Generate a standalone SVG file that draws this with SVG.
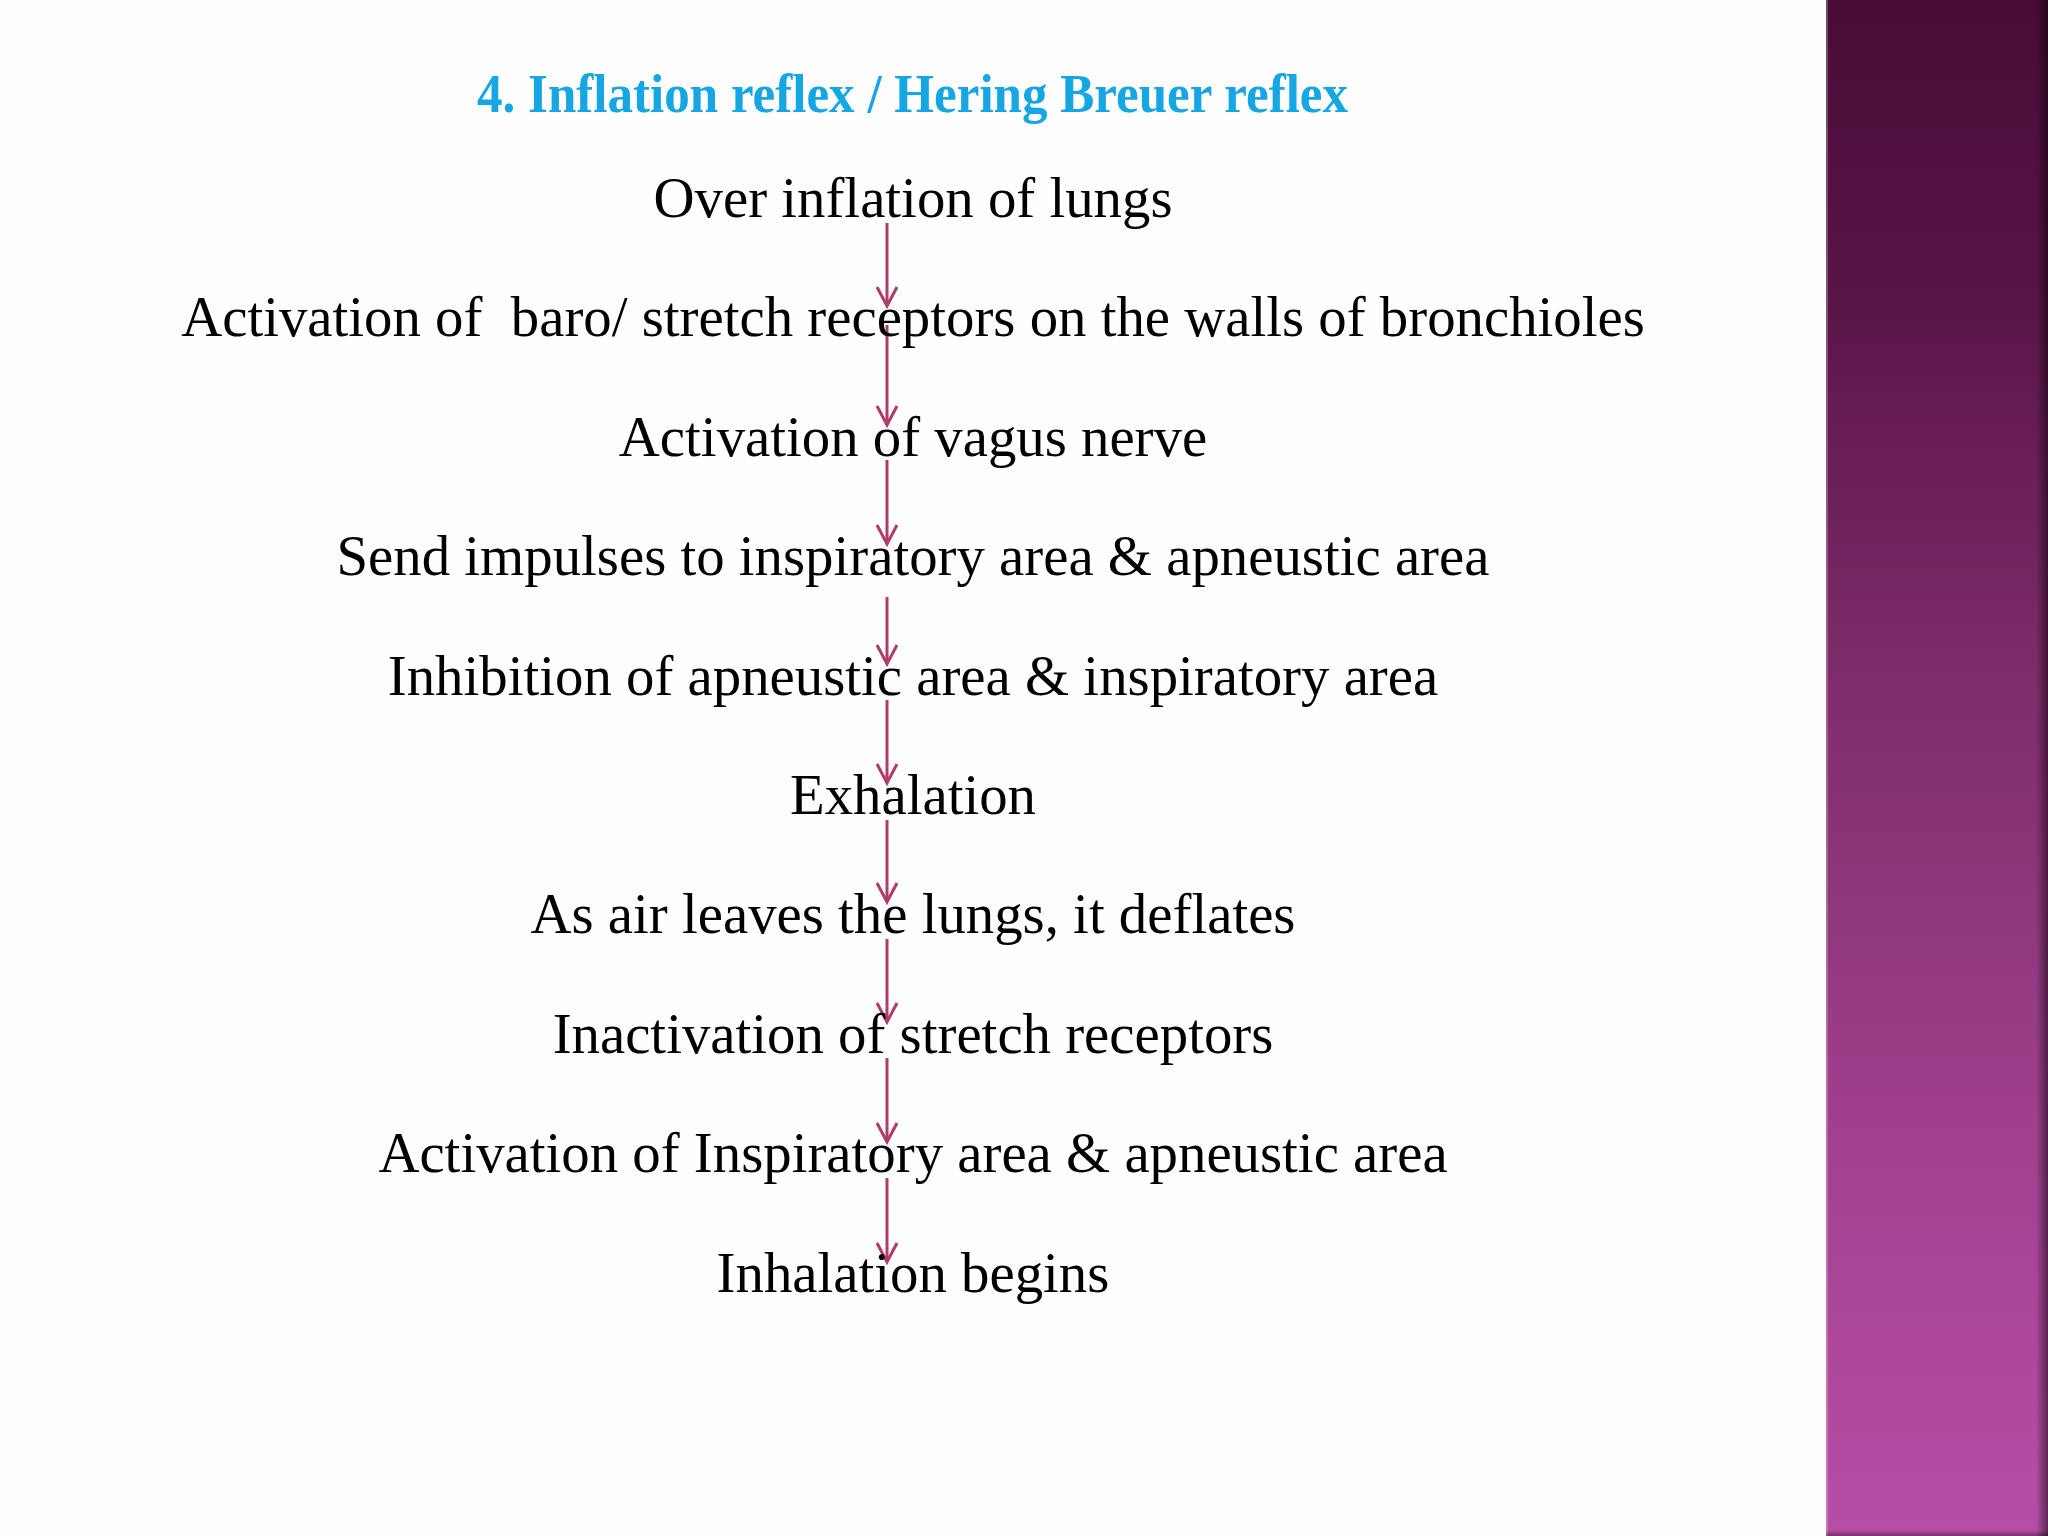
<svg xmlns="http://www.w3.org/2000/svg" width="2048" height="1536" viewBox="0 0 2048 1536">
  <style>
    .step { font-family: "Liberation Serif", "Times New Roman", serif; font-size: 56.8px; fill: #000000; text-anchor: middle; }
    .title { font-family: "Liberation Serif", "Times New Roman", serif; font-size: 54px; font-weight: bold; fill: #16a6e4; }
    .conn { stroke: #b03c6c; stroke-width: 3; fill: none; marker-end: url(#arrow); }
  </style>
  <defs>
    <marker id="arrow" markerUnits="userSpaceOnUse" markerWidth="40" markerHeight="40" refX="0" refY="0" orient="auto" overflow="visible">
      <path d="M-19,-10 L0,0 L-19,10" fill="none" stroke="#b03c6c" stroke-width="3" stroke-linejoin="miter"/>
    </marker>
    <linearGradient id="barGrad" x1="0" y1="0" x2="0" y2="1">
      <stop offset="0" stop-color="#480b37"/>
      <stop offset="0.2" stop-color="#5a1548"/>
      <stop offset="0.45" stop-color="#7f2d6c"/>
      <stop offset="0.75" stop-color="#a2418f"/>
      <stop offset="1" stop-color="#b64ea6"/>
    </linearGradient>
    <linearGradient id="edgeShade" x1="0" y1="0" x2="1" y2="0">
      <stop offset="0" stop-color="#000000" stop-opacity="0"/>
      <stop offset="1" stop-color="#000000" stop-opacity="0.5"/>
    </linearGradient>
    <linearGradient id="bottomShade" x1="0" y1="0" x2="0" y2="1">
      <stop offset="0" stop-color="#000000" stop-opacity="0"/>
      <stop offset="1" stop-color="#000000" stop-opacity="0.35"/>
    </linearGradient>
  </defs>

  <rect x="0" y="0" width="2048" height="1536" fill="#fefefe"/>

  <g id="side-bar">
    <rect x="1826" y="0" width="222" height="1536" fill="url(#barGrad)"/>
    <rect x="1826" y="0" width="2" height="1536" fill="#ffffff" fill-opacity="0.25"/>
    <rect x="2036" y="0" width="12" height="1536" fill="url(#edgeShade)"/>
    <rect x="1826" y="1530" width="222" height="6" fill="url(#bottomShade)"/>
  </g>

  <g id="title">
    <text class="title" x="477" y="112" textLength="871" lengthAdjust="spacingAndGlyphs">4. Inflation reflex / Hering Breuer reflex</text>
  </g>

  <g id="connectors">
    <line class="conn" x1="887" y1="223" x2="887" y2="306"/>
    <line class="conn" x1="887" y1="325" x2="887" y2="425"/>
    <line class="conn" x1="887" y1="460" x2="887" y2="544"/>
    <line class="conn" x1="887" y1="597" x2="887" y2="664"/>
    <line class="conn" x1="887" y1="700" x2="887" y2="783"/>
    <line class="conn" x1="887" y1="820" x2="887" y2="902"/>
    <line class="conn" x1="887" y1="939" x2="887" y2="1022"/>
    <line class="conn" x1="887" y1="1058" x2="887" y2="1142"/>
    <line class="conn" x1="887" y1="1178" x2="887" y2="1262"/>
  </g>

  <g id="node-1"><text class="step" x="913" y="217">Over inflation of lungs</text></g>
  <g id="node-2"><text class="step" x="913" y="336" xml:space="preserve">Activation of  baro/ stretch receptors on the walls of bronchioles</text></g>
  <g id="node-3"><text class="step" x="913" y="456">Activation of vagus nerve</text></g>
  <g id="node-4"><text class="step" x="913" y="575">Send impulses to inspiratory area &amp; apneustic area</text></g>
  <g id="node-5"><text class="step" x="913" y="695">Inhibition of apneustic area &amp; inspiratory area</text></g>
  <g id="node-6"><text class="step" x="913" y="814">Exhalation</text></g>
  <g id="node-7"><text class="step" x="913" y="933">As air leaves the lungs, it deflates</text></g>
  <g id="node-8"><text class="step" x="913" y="1053">Inactivation of stretch receptors</text></g>
  <g id="node-9"><text class="step" x="913" y="1172">Activation of Inspiratory area &amp; apneustic area</text></g>
  <g id="node-10"><text class="step" x="913" y="1292">Inhalation begins</text></g>
</svg>
